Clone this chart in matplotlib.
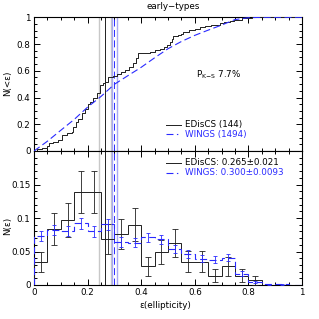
import matplotlib
matplotlib.use('Agg')
import matplotlib.pyplot as plt
from matplotlib.ticker import MultipleLocator

plt.rcParams['font.family'] = ['DejaVu Sans']
plt.rcParams['lines.scale_dashes'] = False

# ---------------- data ----------------
bin_edges = [0.00, 0.05, 0.10, 0.15, 0.20, 0.25, 0.30, 0.35, 0.40, 0.45, 0.50,
             0.55, 0.60, 0.65, 0.70, 0.75, 0.80, 0.85, 0.90, 0.95, 1.00]
bin_centers = [0.025, 0.075, 0.125, 0.175, 0.225, 0.275, 0.325, 0.375, 0.425, 0.475,
               0.525, 0.575, 0.625, 0.675, 0.725, 0.775, 0.825, 0.875, 0.925, 0.975]

ediscs_hist = [0.035, 0.083, 0.097, 0.139, 0.139, 0.069, 0.076, 0.090, 0.028, 0.049,
               0.063, 0.035, 0.035, 0.014, 0.028, 0.014, 0.007, 0.0, 0.0, 0.0]
ediscs_err = [0.015, 0.024, 0.026, 0.031, 0.031, 0.022, 0.023, 0.025, 0.014, 0.018,
              0.021, 0.0155, 0.0155, 0.0098, 0.014, 0.0098, 0.0069, 0.0, 0.0, 0.0]

wings_hist = [0.073, 0.082, 0.081, 0.092, 0.080, 0.091, 0.064, 0.063, 0.071, 0.068,
              0.054, 0.046, 0.039, 0.038, 0.041, 0.017, 0.0045, 0.001, 0.001, 0.0]
wings_err = [0.0075, 0.0078, 0.0078, 0.0083, 0.0077, 0.0082, 0.0069, 0.0068, 0.0073, 0.0071,
             0.0064, 0.0058, 0.0054, 0.0053, 0.0055, 0.0036, 0.0017, 0.0008, 0.0008, 0.0]

ediscs_cdf_eps = [0.000, 0.012, 0.030, 0.047, 0.056, 0.070, 0.090, 0.105, 0.122, 0.140,
                  0.147, 0.155, 0.165, 0.178, 0.190, 0.200, 0.210, 0.222, 0.234, 0.246,
                  0.258, 0.265, 0.277, 0.295, 0.309, 0.325, 0.340, 0.355, 0.370, 0.380,
                  0.389, 0.410, 0.433, 0.450, 0.470, 0.485, 0.495, 0.507, 0.515, 0.519,
                  0.539, 0.550, 0.557, 0.580, 0.600, 0.620, 0.638, 0.660, 0.694, 0.710,
                  0.731, 0.745, 0.776, 0.812, 1.000]
ediscs_cdf = [0.000, 0.014, 0.021, 0.035, 0.058, 0.069, 0.083, 0.118, 0.132, 0.139,
              0.180, 0.215, 0.243, 0.282, 0.313, 0.354, 0.368, 0.400, 0.436, 0.494,
              0.507, 0.518, 0.556, 0.563, 0.574, 0.590, 0.606, 0.632, 0.656, 0.694,
              0.731, 0.736, 0.743, 0.757, 0.764, 0.778, 0.793, 0.818, 0.840, 0.860,
              0.867, 0.875, 0.889, 0.903, 0.910, 0.924, 0.935, 0.941, 0.955, 0.965,
              0.972, 0.983, 0.993, 1.000, 1.000]

wings_cdf_eps = [0.00, 0.05, 0.10, 0.15, 0.20, 0.25, 0.30, 0.35, 0.40, 0.45, 0.50,
                 0.55, 0.60, 0.65, 0.70, 0.75, 0.80, 0.85, 1.00]
wings_cdf = [0.000, 0.073, 0.155, 0.236, 0.328, 0.408, 0.499, 0.563, 0.626, 0.697, 0.765,
             0.819, 0.865, 0.904, 0.942, 0.983, 0.997, 1.000, 1.000]

ediscs_mean, ediscs_mean_err = 0.265, 0.021
wings_mean, wings_mean_err = 0.300, 0.0093
ediscs_n, wings_n = 144, 1494
pks = 7.7

# ---------------- style ----------------
BLUE = '#2a2aff'
LBLUE = '#a8a8f4'
GRAY = '#c8c8c8'
BLACK = '#202020'
FS = 6.3
DASH = (0, (5, 2.5))

fig = plt.figure(figsize=(3.19, 3.19), dpi=100)
L, R = 34 / 319, 302 / 319
y_top, y_mid, y_bot = 1 - 17.3 / 319, 1 - 151 / 319, 1 - 285 / 319
ax1 = fig.add_axes([L, y_mid, R - L, y_top - y_mid])
ax2 = fig.add_axes([L, y_bot, R - L, y_mid - y_bot])


def style(ax, ymaj, ymin):
    ax.xaxis.set_major_locator(MultipleLocator(0.2))
    ax.xaxis.set_minor_locator(MultipleLocator(0.05))
    ax.yaxis.set_major_locator(MultipleLocator(ymaj))
    ax.yaxis.set_minor_locator(MultipleLocator(ymin))
    ax.tick_params(which='both', direction='in', top=True, right=True,
                   width=0.7, labelsize=FS, pad=2.5)
    ax.tick_params(which='major', length=4.0)
    ax.tick_params(which='minor', length=2.3)
    for s in ax.spines.values():
        s.set_linewidth(0.8)


def vlines(ax):
    ax.axvline(ediscs_mean - ediscs_mean_err, color=GRAY, lw=1.0, zorder=1)
    ax.axvline(ediscs_mean + ediscs_mean_err, color=GRAY, lw=1.0, zorder=1)
    ax.axvline(ediscs_mean, color=BLACK, lw=0.7, zorder=2)
    ax.axvline(wings_mean - wings_mean_err, color=LBLUE, lw=1.0, zorder=1)
    ax.axvline(wings_mean + wings_mean_err, color=LBLUE, lw=1.0, zorder=1)
    ax.axvline(wings_mean, color=BLUE, lw=0.7, ls=DASH, zorder=2)


# ---- top panel ----
vlines(ax1)
ax1.step(ediscs_cdf_eps, ediscs_cdf, where='post', color=BLACK, lw=0.7, zorder=3)
ax1.plot(wings_cdf_eps, wings_cdf, color=BLUE, lw=0.8, ls=DASH, zorder=3)
ax1.set_xlim(0, 1)
ax1.set_ylim(0, 1)
style(ax1, 0.2, 0.05)
ax1.set_yticks([0, 0.2, 0.4, 0.6, 0.8, 1.0])
ax1.set_yticklabels(['0', '0.2', '0.4', '0.6', '0.8', '1'])
ax1.tick_params(labelbottom=False)

ax1.text(0.604, 0.572, r'P$_{\rm K\!-\!S}$ ' + f'{pks}%', transform=ax1.transAxes,
         fontsize=FS, ha='left', va='center')
# legend
ax1.plot([0.493, 0.550], [0.198, 0.198], transform=ax1.transAxes, color=BLACK, lw=0.7)
ax1.text(0.563, 0.198, f'EDisCS ({ediscs_n})', transform=ax1.transAxes,
         fontsize=FS, ha='left', va='center')
ax1.plot([0.493, 0.550], [0.125, 0.125], transform=ax1.transAxes, color=BLUE, lw=0.8,
         ls=(0, (5, 2.5, 1, 2.5)))
ax1.text(0.563, 0.125, f'WINGS ({wings_n})', transform=ax1.transAxes, color=BLUE,
         fontsize=FS, ha='left', va='center')

# ---- bottom panel ----
vlines(ax2)
ax2.stairs(ediscs_hist, bin_edges, color=BLACK, lw=0.7, zorder=3)
ax2.errorbar(bin_centers[:17], ediscs_hist[:17], yerr=ediscs_err[:17], fmt='none',
             ecolor=BLACK, elinewidth=0.6, capsize=2.0, capthick=0.6, zorder=3)
ax2.stairs(wings_hist, bin_edges, color=BLUE, lw=0.8, ls=DASH, zorder=4)
ax2.errorbar(bin_centers[:19], wings_hist[:19], yerr=wings_err[:19], fmt='none',
             ecolor=BLUE, elinewidth=0.6, capsize=1.6, capthick=0.6, zorder=4)
ax2.set_xlim(0, 1)
ax2.set_ylim(0, 0.2)
style(ax2, 0.05, 0.01)
ax2.set_yticks([0, 0.05, 0.1, 0.15])
ax2.set_yticklabels(['0', '0.05', '0.1', '0.15'])
ax2.set_xticks([0, 0.2, 0.4, 0.6, 0.8, 1.0])
ax2.set_xticklabels(['0', '0.2', '0.4', '0.6', '0.8', '1'])

ax2.plot([0.493, 0.550], [0.913, 0.913], transform=ax2.transAxes, color=BLACK, lw=0.7)
ax2.text(0.563, 0.913, f'EDisCS: {ediscs_mean:.3f}±{ediscs_mean_err}', transform=ax2.transAxes,
         fontsize=FS, ha='left', va='center')
ax2.plot([0.493, 0.550], [0.838, 0.838], transform=ax2.transAxes, color=BLUE, lw=0.8,
         ls=(0, (5, 2.5, 1, 2.5)))
ax2.text(0.563, 0.838, f'WINGS: {wings_mean:.3f}±{wings_mean_err}', transform=ax2.transAxes,
         color=BLUE, fontsize=FS, ha='left', va='center')

# axis labels placed at the reference positions
fig.text(8 / 319, 1 - 83 / 319, 'N(<ε)', fontsize=FS, rotation=90, ha='center', va='center')
fig.text(8 / 319, 1 - 226 / 319, 'N(ε)', fontsize=FS, rotation=90, ha='center', va='center')
fig.text(165 / 319, 1 - 306 / 319, 'ε(ellipticity)', fontsize=FS, ha='center', va='center')
fig.text(173.5 / 319, 1 - 6.5 / 319, 'early−types', fontsize=FS, ha='center', va='center')

fig.savefig('out.png', dpi=100)
